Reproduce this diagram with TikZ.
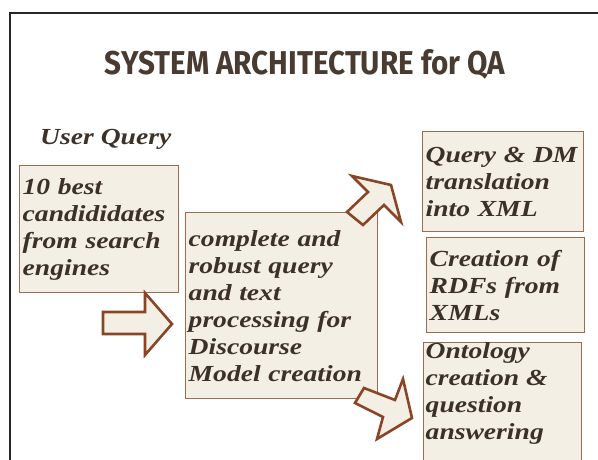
\documentclass[tikz,border=0pt]{standalone}
\usepackage{fontspec}
\usepackage{graphicx}
\setmainfont{Liberation Serif}
\newfontfamily\boxfont[FakeStretch=1.2]{Liberation Serif}
\newfontfamily\titlefont{Fira Sans}
\definecolor{boxfill}{HTML}{F3EFE4}
\definecolor{boxline}{HTML}{A06A4E}
\definecolor{arrowline}{HTML}{8A4526}
\definecolor{inktext}{HTML}{3C3129}
\definecolor{titleink}{HTML}{4A3B32}
\tikzset{
  boxtextfont/.style={font=\boxfont\fontsize{23}{27}\selectfont\bfseries\itshape},
  box/.style={draw=boxline, fill=boxfill, line width=1.4pt, anchor=north west,
    align=left, inner xsep=2pt, inner ysep=0pt, text=inktext, boxtextfont},
  blockarrow/.style={draw=arrowline, fill=boxfill, line width=2.6pt, line join=miter},
  frameline/.style={draw=black!85, line width=1.4pt}
}
\begin{document}
\begin{tikzpicture}[x=1pt,y=-1pt]
\useasboundingbox (0,0) rectangle (598,460);
\clip (0,0) rectangle (598,460);
% frame
\coordinate (fr1) at (10,460);
\coordinate (fr2) at (10,13);
\coordinate (fr3) at (600,13);
\draw[frameline] (fr1) -- (fr2) -- (fr3);
% title
\node[text=titleink, anchor=base] (title) at (305,75)
  {\resizebox{400pt}{\height}{\titlefont\fontsize{33}{33}\selectfont\bfseries SYSTEM ARCHITECTURE for QA}};
\node[text=inktext, anchor=base west, inner sep=0pt, boxtextfont] (uq) at (40,145) {User Query};
% boxes
\node[box, minimum width=159pt, minimum height=127pt, text width=153pt] (b1) at (19,165)
  {10 best\\candididates\\from search\\engines};
\node[box, minimum width=192pt, minimum height=186pt, text width=186pt] (b2) at (185,212)
  {complete and\\robust query\\and text\\processing for\\Discourse\\Model creation};
\node[box, minimum width=161pt, minimum height=100pt, text width=155pt] (b3) at (422,131)
  {Query \& DM\\translation\\into XML};
\node[box, minimum width=158pt, minimum height=95pt, text width=152pt] (b4) at (426,237)
  {Creation of\\RDFs from\\XMLs};
\node[draw=boxline, fill=boxfill, line width=1.4pt, anchor=north west, inner xsep=2pt,
  inner ysep=0pt, text=inktext, boxtextfont] (b5) at (423,342)
  {\parbox[t][140pt][t]{154pt}{\raggedright Ontology\\creation \&\\question\\answering}};
% block arrows
\draw[blockarrow] (103,312) -- (145,312) -- (145,293) -- (172,324) -- (145,355) -- (145,334) -- (103,334) -- cycle;
\draw[blockarrow] (347,212) -- (368,192) -- (352,176) -- (391,185) -- (401,222) -- (384,205) -- (363,225) -- cycle;
\draw[blockarrow] (364,388) -- (395,400) -- (403,379) -- (412,418) -- (377,439) -- (383,417) -- (355,403) -- cycle;
\end{tikzpicture}
\end{document}
